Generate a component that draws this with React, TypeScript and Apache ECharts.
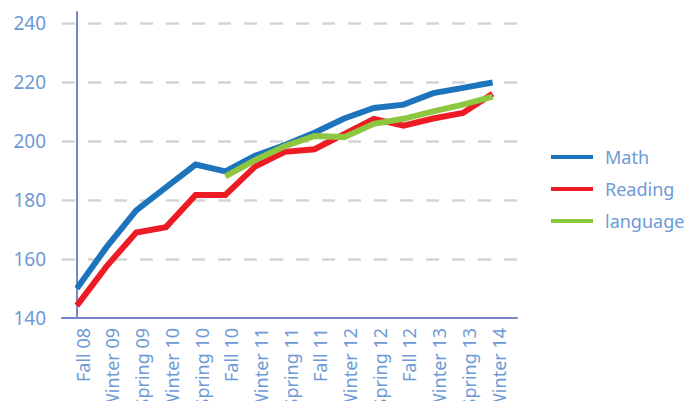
import React, { useEffect, useRef } from "react";
import * as echarts from "echarts";

const categories = [
  "Fall 08", "Winter 09", "Spring 09", "Winter 10", "Spring 10", "Fall 10",
  "Winter 11", "Spring 11", "Fall 11", "Winter 12", "Spring 12", "Fall 12",
  "Winter 13", "Spring 13", "Winter 14",
];
const math = [150, 164, 176.5, 184.3, 192, 189.7, 195, 198.6, 202.8, 207.6, 211.2, 212.3, 216.2, 218, 219.8];
const reading = [144.2, 157.5, 169, 170.8, 181.7, 181.7, 191.3, 196.3, 197.2, 202.3, 207.5, 205.2, 207.6, 209.5, 216];
const language = [null, null, null, null, null, 188, 193.5, 198.2, 201.7, 201.3, 205.8, 207.5, 210, 212.3, 215];
const yTicks = [140, 160, 180, 200, 220, 240];

const labelColor = "#6e9ad6";
const font = "Noto Sans";

const toPairs = (arr: (number | null)[]) =>
  arr.map((v, i) => (v === null ? null : [i, v])).filter((p) => p !== null);

export default function App() {
  const ref = useRef<HTMLDivElement>(null);
  useEffect(() => {
    if (!ref.current) return;
    const chart = echarts.init(ref.current, null, { renderer: "svg" });
    const lineSeries = (name: string, data: (number | null)[], color: string, extra: any = {}) => ({
      name,
      type: "line",
      data: toPairs(data),
      symbol: "none",
      lineStyle: { color, width: 6, join: "miter" },
      itemStyle: { color },
      z: 3,
      ...extra,
    });
    chart.setOption({
      animation: false,
      grid: { left: 62, right: 175, top: 12, bottom: 91, containLabel: false, outerBoundsMode: "none" },
      xAxis: {
        type: "value",
        min: -0.5,
        max: 14.82,
        axisLine: { show: true, lineStyle: { color: "#7686c6", width: 2 } },
        axisTick: { show: false },
        splitLine: { show: false },
        axisLabel: {
          customValues: categories.map((_, i) => i + 0.2),
          formatter: (v: number) => categories[Math.round(v)] ?? "",
          rotate: 90,
          margin: 10,
          color: labelColor,
          fontFamily: font,
          fontSize: 18,
        },
      },
      yAxis: {
        type: "value",
        min: 140,
        max: 243.7,
        axisLine: { show: true, lineStyle: { color: "#7686c6", width: 2 } },
        axisTick: { show: false },
        splitLine: { show: false },
        axisLabel: {
          customValues: yTicks,
          margin: 16,
          color: labelColor,
          fontFamily: font,
          fontSize: 19,
        },
      },
      legend: {
        orient: "vertical",
        left: 551,
        top: 146,
        padding: 0,
        itemWidth: 42,
        itemHeight: 4,
        itemGap: 10,
        icon: "rect",
        textStyle: {
          color: labelColor,
          fontFamily: font,
          fontSize: 18,
          lineHeight: 22,
          padding: [0, 0, 0, 7],
        },
        data: ["Math", "Reading", "language"],
      },
      series: [
        lineSeries("Math", math, "#1c75bc", {
          markLine: {
            silent: true,
            symbol: "none",
            label: { show: false },
            lineStyle: { color: "#d3d3d3", width: 2.5, type: [13, 13] },
            data: yTicks.filter((t) => t > 140).map((t) => ({ yAxis: t })),
            z: 1,
          },
        }),
        lineSeries("Reading", reading, "#ed1c24"),
        lineSeries("language", language, "#8dc63f"),
      ],
    });
    return () => chart.dispose();
  }, []);
  return <div ref={ref} style={{ width: 692, height: 409, margin: -8 }} />;
}
